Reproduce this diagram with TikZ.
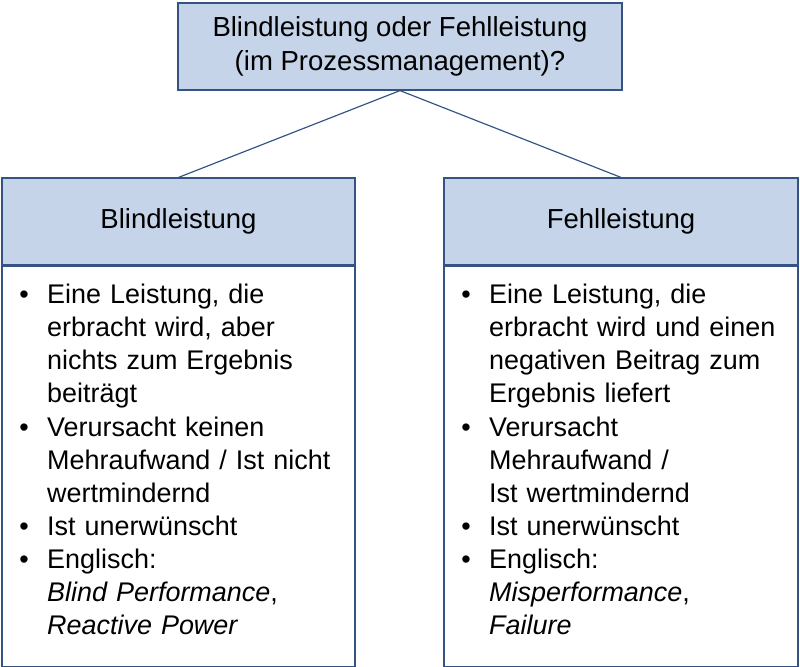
\documentclass[tikz,border=0pt]{standalone}
\usepackage{fontspec}
\setmainfont{Liberation Sans}
\usepackage{enumitem}
\usetikzlibrary{positioning}
\definecolor{boxfill}{RGB}{197,212,232}
\definecolor{boxline}{RGB}{52,82,130}
\tikzset{
  headbox/.style={draw=boxline, fill=boxfill, line width=1pt, align=center, inner sep=0pt, font=\fontsize{23.5}{29}\selectfont},
  bodybox/.style={draw=boxline, line width=1pt, minimum width=10.59cm, minimum height=12cm, inner sep=0pt},
  listtext/.style={anchor=north west, text width=10.3cm, inner sep=0pt, font=\fontsize{23}{28.3}\selectfont},
  link/.style={draw=boxline, line width=1pt}
}
\newcommand{\buls}[1]{\begin{itemize}[label={\textbullet},leftmargin=1.26cm,labelsep=0.55cm,itemsep=0pt,topsep=0pt,parsep=0pt,partopsep=0pt]#1\end{itemize}}
\begin{document}
\begin{tikzpicture}[x=0.03cm,y=-0.03cm]
\useasboundingbox (0,0) rectangle (800,667);
\node[headbox, minimum width=13.32cm, minimum height=2.61cm] (top) at (400,46.5)
  {Blindleistung oder Fehlleistung\\(im Prozessmanagement)?};
\node[headbox, minimum width=10.59cm, minimum height=2.61cm] (lhead) at (178.5,221.5) {Blindleistung};
\node[headbox, minimum width=10.62cm, minimum height=2.61cm] (rhead) at (621,221.5) {Fehlleistung};
\node[bodybox, anchor=north] (lbody) at (lhead.south) {};
\node[bodybox, minimum width=10.62cm, anchor=north] (rbody) at (rhead.south) {};
\draw[link] (top.south) -- (lhead.north);
\draw[link] (top.south) -- (rhead.north);
\node[listtext] (ltext) at (5,270) {\buls{
  \item Eine Leistung, die\\erbracht wird, aber\\nichts zum Ergebnis\\beiträgt
  \item Verursacht keinen\\Mehraufwand / Ist nicht\\wertmindernd
  \item Ist unerwünscht
  \item Englisch:\\\textit{Blind Performance},\\\textit{Reactive Power}}};
\node[listtext] (rtext) at (447,270) {\buls{
  \item Eine Leistung, die\\erbracht wird und einen\\negativen Beitrag zum\\Ergebnis liefert
  \item Verursacht\\Mehraufwand /\\Ist wertmindernd
  \item Ist unerwünscht
  \item Englisch:\\\textit{Misperformance},\\\textit{Failure}}};
\end{tikzpicture}
\end{document}
